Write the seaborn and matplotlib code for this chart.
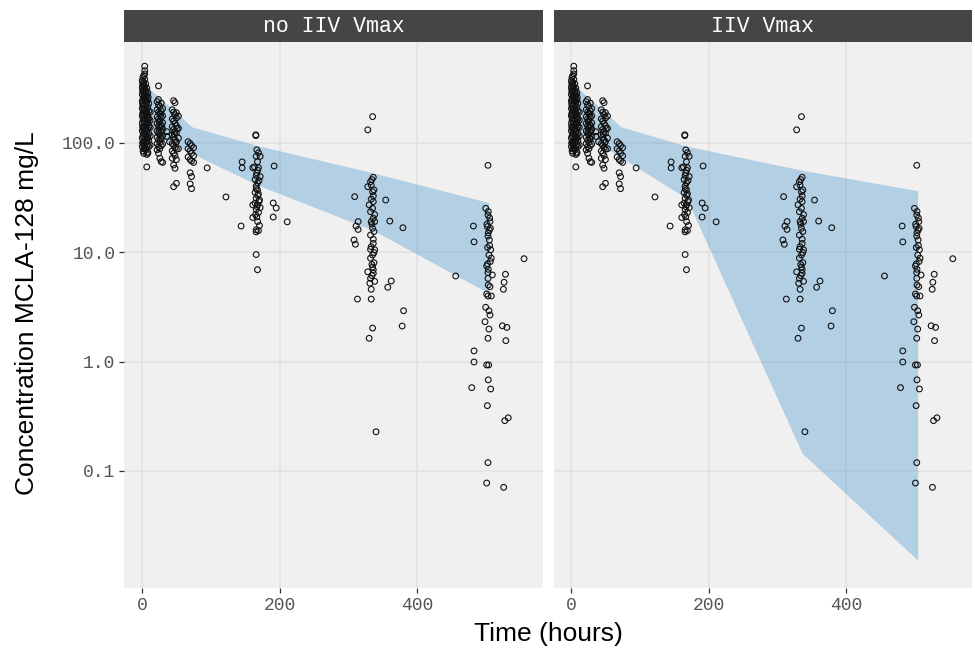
import matplotlib
matplotlib.use("Agg")
import matplotlib.pyplot as plt
from matplotlib.patches import Rectangle
from matplotlib.ticker import NullLocator
import seaborn as sns
import pandas as pd

# ---------------- data ----------------
facets = ["no IIV Vmax", "IIV Vmax"]

# observed concentrations (same in both facets)
early_time = [0.5, 0.5, 0.5, 0.5, 0.5, 0.5, 0.5, 0.5, 0.5, 0.5,
              1.5, 1.5, 1.5, 1.5, 1.5, 1.5, 1.5, 1.5, 1.5, 1.5, 1.5,
              2.5, 2.5, 2.5, 2.5, 2.5, 2.5, 2.5, 2.5, 2.5, 2.5, 2.5, 2.5,
              4, 4, 4, 4, 4, 4, 4, 4, 4, 4, 4, 4, 4, 4,
              5.5, 5.5, 5.5, 5.5, 5.5, 5.5, 5.5, 5.5, 5.5, 5.5,
              7, 7, 7, 7, 7, 7, 7, 7, 7, 7, 7,
              8.5, 8.5, 8.5, 8.5, 8.5, 8.5, 8.5, 8.5, 8.5, 8.5,
              10, 10, 10, 10, 10, 10, 10,
              12, 12, 12, 12, 12,
              1, 1, 1, 1, 1, 1, 3, 3, 3, 3, 3, 3, 6, 6, 6, 6, 6, 9, 9, 9, 9]
early_conc = [92, 110, 128, 150, 175, 205, 240, 275, 320, 370,
              84, 98, 115, 135, 160, 188, 215, 250, 290, 335, 395,
              80, 88, 104, 122, 142, 168, 196, 230, 265, 305, 355, 410,
              91, 95, 112, 130, 152, 178, 208, 242, 280, 325, 380, 425, 455, 500,
              86, 101, 118, 138, 162, 190, 222, 258, 300, 345,
              60, 78, 92, 108, 126, 147, 172, 200, 234, 270, 315,
              80, 82, 97, 114, 133, 155, 182, 212, 246, 285,
              92, 104, 121, 140, 165, 195, 228,
              95, 115, 138, 160, 190,
              100, 140, 182, 226, 300, 350, 96, 120, 156, 200, 260, 330,
              102, 135, 185, 245, 290, 110, 150, 170, 260]

day1_time = [22, 22, 22, 22, 22, 22, 22, 22,
             24, 24, 24, 24, 24, 24, 24, 24, 24, 24,
             26, 26, 26, 26, 26, 26, 26, 26,
             28, 28, 28, 28, 28, 28, 28, 28,
             30, 30, 30, 30, 30, 30, 30,
             36, 36, 40, 25, 25, 27, 27, 29]
day1_conc = [237, 200, 172, 150, 128, 112, 98, 86,
             330, 248, 222, 190, 165, 142, 122, 106, 92, 80,
             214, 185, 160, 138, 118, 100, 88, 72,
             230, 195, 170, 145, 125, 108, 94, 67,
             205, 176, 152, 132, 115, 97, 66,
             126, 114, 102, 155, 130, 180, 110, 140]

day2_time = [44, 44, 44, 44, 44, 44, 44,
             46, 46, 46, 46, 46, 46, 46, 46, 46,
             48, 48, 48, 48, 48, 48, 48, 48,
             50, 50, 50, 50, 50, 50, 50, 50,
             53, 53, 53, 53, 47, 49, 51]
day2_conc = [200, 165, 140, 118, 98, 84, 72,
             242, 190, 158, 132, 112, 95, 80, 62.5, 39.6,
             232, 180, 150, 126, 106, 90, 76, 58.3,
             188, 168, 143, 122, 102, 87, 70, 42.5,
             175, 135, 110, 88, 120, 100, 135]

day3_time = [67, 67, 67, 70, 70, 70, 70, 70, 72, 72, 72, 72, 72, 75, 75, 75]
day3_conc = [102, 88, 74, 98, 84, 70, 53, 42, 94, 80, 68, 49, 38, 90, 76, 66]

sparse_time = [94.7, 122, 145.5, 145.5, 144, 192, 190.6, 195, 190.6, 211]
sparse_conc = [58.8, 31.9, 66.7, 58.8, 17.3, 61.2, 28.1, 25.3, 20.9, 18.9]

week1_time = [165.4, 165.4, 166.8, 169.2, 165.9, 171.7, 167.8, 163.4, 169.2, 161,
              166.8, 171.7, 164.4, 167.8, 165.9, 167.8, 164.4, 169.2, 165.9, 170.7,
              164.4, 167.8, 161, 171.7, 165.9, 169.2, 161, 166.8, 170.7, 165.9,
              169.2, 165.9, 167.8, 168, 166, 170, 166, 168, 170, 167, 165, 168, 166]
week1_conc = [118, 116, 86, 81, 75, 75, 67, 60, 59, 59,
              53, 49, 46, 43, 40, 37, 35, 34, 31, 30,
              28, 27, 27, 25.5, 24.5, 23, 20.7, 21, 17.5, 15.3,
              15.7, 9.5, 6.9, 56, 50, 45, 38, 33, 29, 26, 22, 19, 16]

week2_time = [336, 332, 333, 328, 335, 336, 309, 354, 336, 330,
              335, 332, 336, 360, 333, 338, 314, 311, 379, 335,
              314, 337, 332, 336, 308, 310, 332, 338, 335, 332,
              337, 335, 328, 336, 332, 362, 331, 357, 333, 313,
              333, 380, 335, 378, 330, 340, 335, 328,
              334, 337, 333, 338, 334, 336, 333, 337, 334, 336, 334, 338]
week2_conc = [48.3, 44, 41, 39.6, 35.6, 32.6, 32.1, 29.9, 28.9, 27,
              25.1, 23.4, 20.4, 19.2, 19, 19, 19, 17.3, 16.7, 16.5,
              16.1, 15.4, 14.3, 13.1, 12.9, 11.8, 10.6, 10.5, 9.4, 8.8,
              8.0, 7.3, 6.6, 6.4, 5.75, 5.44, 5.19, 4.77, 4.57, 3.72,
              3.72, 2.91, 2.02, 2.11, 1.63, 0.228, 173, 131,
              46, 37, 30.5, 22, 18, 12, 11.2, 9.9, 7.7, 6.9, 6.1, 5.4]

week3_time = [502.6, 499.3, 502.6, 505.5, 481.4, 501.7, 504.6, 502.6, 504.6, 482.3,
              506.5, 504, 507.4, 500.7, 503, 502.6, 528, 508.9, 455.7, 502.6,
              526, 503, 505.5, 525, 500.7, 507.4, 502.6, 499.3, 504, 505.5,
              498.3, 523.5, 530, 504, 502.6, 528.5, 482.3, 482.3, 500.7, 503.6,
              503, 479, 506.5, 501.7, 532, 527, 502.6, 500.7, 525.4, 555,
              503, 505, 501, 506, 503, 505, 502, 506, 502]
week3_conc = [62.1, 25.1, 21.8, 19, 17.3, 17.1, 15.9, 14, 12.9, 12.4,
              10.5, 9.4, 8.8, 7.46, 6.96, 6.49, 6.27, 6.18, 6.05, 5.75,
              5.30, 5.0, 4.83, 4.57, 4.14, 3.97, 3.97, 3.13, 2.91, 2.66,
              2.31, 2.12, 2.05, 1.98, 1.63, 1.55, 1.25, 0.99, 0.93, 0.93,
              0.68, 0.577, 0.561, 0.395, 0.306, 0.288, 0.119, 0.0775, 0.0708, 8.7,
              23.5, 20.5, 18, 16.5, 15, 11.5, 11, 8.2, 7.8]

# prediction interval ribbons
ribbon_time = [1, 24, 48, 72, 168, 336, 504]
noiiv_lo = [132, 112, 95, 80, 41, 15.8, 4.2]
noiiv_hi = [354, 263, 194, 140, 94, 53, 28.3]
iiv_lo = [132, 111, 91, 74, 31, 0.145, 0.0153]
iiv_hi = [354, 263, 194, 140, 93, 56, 36.4]

x_ticks = [0, 200, 400]
y_ticks = [0.1, 1, 10, 100]
y_tick_labels = ["0.1", "1.0", "10.0", "100.0"]

# ---------------- build frames ----------------
obs = pd.DataFrame({
    "time": early_time + day1_time + day2_time + day3_time + sparse_time
            + week1_time + week2_time + week3_time,
    "conc": early_conc + day1_conc + day2_conc + day3_conc + sparse_conc
            + week1_conc + week2_conc + week3_conc,
})
ribbons = {
    "no IIV Vmax": (noiiv_lo, noiiv_hi),
    "IIV Vmax": (iiv_lo, iiv_hi),
}

# ---------------- figure ----------------
W, H = 975, 649
fig = plt.figure(figsize=(W / 100, H / 100), dpi=100)
fig.patch.set_facecolor("white")


def frac(x0, y0, x1, y1):
    return [x0 / W, 1 - y1 / H, (x1 - x0) / W, (y1 - y0) / H]


panel_x = [(124.4, 543.0), (553.5, 971.7)]
top, bottom = 42, 588
strip_top = 10

mono = "Liberation Mono"
sans = "Liberation Sans"

for i, (name, (x0, x1)) in enumerate(zip(facets, panel_x)):
    ax = fig.add_axes(frac(x0, top, x1, bottom))
    ax.set_facecolor("#F0F0F0")
    ax.set_yscale("log")
    ax.set_xlim(-25.5, 582.5)
    ax.set_ylim(10 ** -2.070, 10 ** 2.920)
    ax.grid(True, which="major", color="#E1E1E1", linewidth=1.1)
    ax.set_axisbelow(True)
    for s in ax.spines.values():
        s.set_visible(False)

    lo, hi = ribbons[name]
    ax.fill_between(ribbon_time, lo, hi, color="#2885C8", alpha=0.3,
                    linewidth=0, zorder=1)

    sns.scatterplot(data=obs, x="time", y="conc", ax=ax, marker="o", s=17,
                    legend=False, zorder=3)
    coll = ax.collections[-1]
    coll.set_facecolor("none")
    coll.set_edgecolor("#111111")
    coll.set_linewidth(0.8)

    ax.set_xticks(x_ticks)
    ax.set_xticklabels([str(v) for v in x_ticks])
    ax.set_yticks(y_ticks)
    ax.set_yticklabels(y_tick_labels)
    ax.yaxis.set_minor_locator(NullLocator())
    ax.xaxis.set_minor_locator(NullLocator())
    ax.tick_params(axis="both", length=3.5, width=0.9, color="#333333",
                   labelcolor="#555555", labelsize=13, pad=3)
    for lab in ax.get_xticklabels() + ax.get_yticklabels():
        lab.set_family(mono)
    if i > 0:
        ax.tick_params(axis="y", left=False, labelleft=False)
    ax.set_xlabel("")
    ax.set_ylabel("")

    # strip
    fig.add_artist(Rectangle((x0 / W, 1 - top / H), (x1 - x0) / W,
                             (top - strip_top) / H, transform=fig.transFigure,
                             facecolor="#454545", edgecolor="none"))
    fig.text((x0 + x1) / 2 / W, 1 - (top + strip_top) / 2 / H, name,
             ha="center", va="center", color="white", family=mono,
             fontsize=15.5)

fig.text(548 / W, 1 - 634 / H, "Time (hours)", ha="center", va="center",
         family=sans, fontsize=19, color="black")
fig.text(27 / W, 1 - 313 / H, "Concentration MCLA-128 mg/L", ha="center",
         va="center", rotation=90, family=sans, fontsize=19, color="black")

fig.savefig("out.png", dpi=100, facecolor="white")
